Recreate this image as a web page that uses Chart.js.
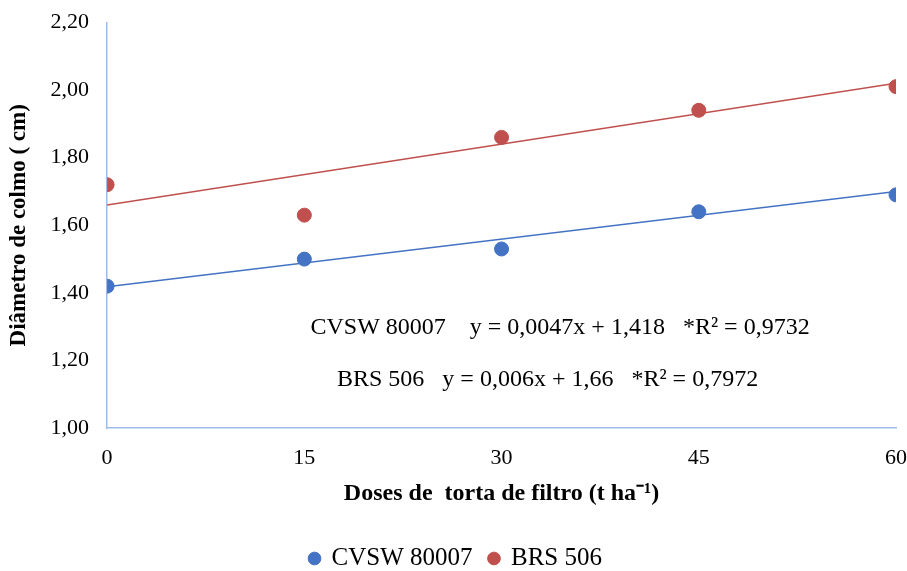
<!DOCTYPE html>
<html>
<head>
<meta charset="utf-8">
<script src="https://cdn.jsdelivr.net/npm/chart.js@4.4.1/dist/chart.umd.min.js"></script>
<style>
  html, body { margin: 0; padding: 0; background: #ffffff; }
  #wrap { width: 907px; height: 571px; }
</style>
</head>
<body>
<div id="wrap"><canvas id="c" width="907" height="571"></canvas></div>
<script>
// ---- data ----
const doses = [0, 15, 30, 45, 60];
const seriesNames = ['CVSW 80007', 'BRS 506'];
const cvswValues = [1.42, 1.50, 1.53, 1.64, 1.69];
const brsValues = [1.72, 1.63, 1.86, 1.94, 2.01];
const trendX = [0, 60];
const cvswTrend = [1.418, 1.700];
const brsTrend = [1.66, 2.02];
const xTickLabels = ['0', '15', '30', '45', '60'];
const yTickValues = [1.0, 1.2, 1.4, 1.6, 1.8, 2.0, 2.2];
const yTickLabels = ['1,00', '1,20', '1,40', '1,60', '1,80', '2,00', '2,20'];
const equationLines = [
  'CVSW 80007    y = 0,0047x + 1,418   *R² = 0,9732',
  'BRS 506   y = 0,006x + 1,66   *R² = 0,7972'
];
const xTitle = 'Doses de  torta de filtro (t ha⁻¹)';
const yTitle = 'Diâmetro de colmo ( cm)';

const blue = '#4472c4';
const red = '#c0504d';
const axisColor = '#9dbde8';
const serif = '"Liberation Serif", "Times New Roman", serif';

const toPts = (xs, ys) => xs.map((x, i) => ({ x: x, y: ys[i] }));

const equationPlugin = {
  id: 'equations',
  afterDatasetsDraw(chart) {
    const { ctx, scales } = chart;
    ctx.save();
    ctx.fillStyle = '#000000';
    ctx.font = '24px ' + serif;
    ctx.textAlign = 'center';
    ctx.textBaseline = 'middle';
    const pos = [[34.45, 1.298], [33.5, 1.144]];
    equationLines.forEach((t, i) => {
      ctx.fillText(t, scales.x.getPixelForValue(pos[i][0]), scales.y.getPixelForValue(pos[i][1]));
    });
    ctx.restore();
  }
};

new Chart(document.getElementById('c'), {
  type: 'scatter',
  data: {
    datasets: [
      {
        label: seriesNames[0],
        data: toPts(doses, cvswValues),
        backgroundColor: blue,
        borderColor: blue,
        pointRadius: 7,
        pointHoverRadius: 7,
        order: 1
      },
      {
        label: seriesNames[1],
        data: toPts(doses, brsValues),
        backgroundColor: red,
        borderColor: red,
        pointRadius: 7,
        pointHoverRadius: 7,
        order: 1
      },
      {
        label: 'trend1',
        type: 'line',
        data: toPts(trendX, cvswTrend),
        borderColor: blue,
        borderWidth: 1.5,
        pointRadius: 0,
        fill: false,
        order: 2
      },
      {
        label: 'trend2',
        type: 'line',
        data: toPts(trendX, brsTrend),
        borderColor: red,
        borderWidth: 1.5,
        pointRadius: 0,
        fill: false,
        order: 2
      }
    ]
  },
  options: {
    responsive: false,
    animation: false,
    devicePixelRatio: 1,
    layout: { padding: { left: 5, right: 0, top: 0, bottom: -10 } },
    plugins: {
      tooltip: { enabled: false },
      legend: {
        position: 'bottom',
        labels: {
          filter: (item) => item.datasetIndex < 2,
          usePointStyle: true,
          pointStyle: 'circle',
          boxWidth: 9,
          boxHeight: 9,
          padding: 17,
          color: '#000000',
          font: { family: serif, size: 25 }
        }
      }
    },
    scales: {
      x: {
        type: 'linear',
        min: 0,
        max: 60,
        afterBuildTicks: (axis) => { axis.ticks = doses.map(v => ({ value: v })); },
        ticks: {
          callback: (v) => xTickLabels[doses.indexOf(v)],
          color: '#000000',
          padding: 0,
          maxRotation: 0,
          font: { family: serif, size: 22, lineHeight: 2.727 }
        },
        grid: { display: false, drawTicks: false },
        border: { display: true, color: axisColor, width: 1.5 },
        title: {
          display: true,
          text: xTitle,
          color: '#000000',
          font: { family: serif, size: 24, weight: 'bold' },
          padding: { top: -9, bottom: 21 }
        }
      },
      y: {
        type: 'linear',
        min: 1.0,
        max: 2.2,
        afterBuildTicks: (axis) => { axis.ticks = yTickValues.map(v => ({ value: v })); },
        ticks: {
          callback: (v) => yTickLabels[yTickValues.findIndex(t => Math.abs(t - v) < 1e-9)],
          color: '#000000',
          padding: 18,
          font: { family: serif, size: 22, lineHeight: 0.4 }
        },
        grid: { display: false, drawTicks: false },
        border: { display: true, color: axisColor, width: 1.5 },
        title: {
          display: true,
          text: yTitle,
          color: '#000000',
          font: { family: serif, size: 23, weight: 'bold' },
          padding: { top: 0, bottom: 0 }
        }
      }
    }
  },
  plugins: [equationPlugin]
});
</script>
</body>
</html>
